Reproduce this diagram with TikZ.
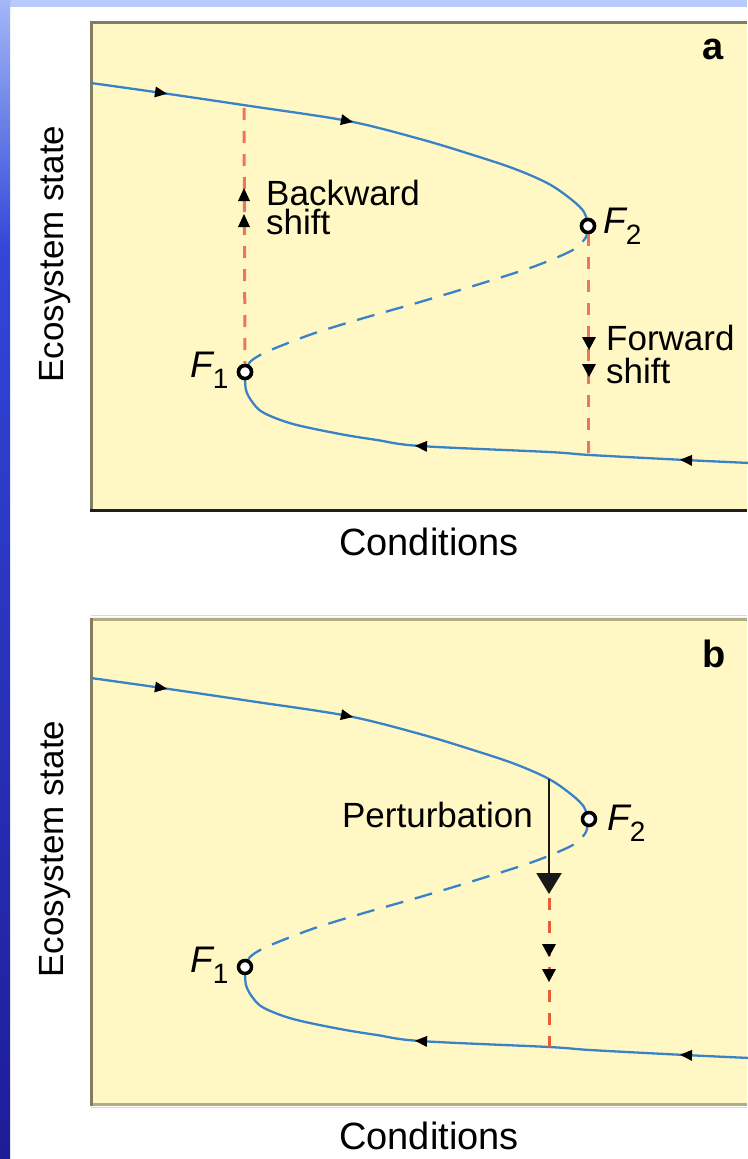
\documentclass[tikz,border=0pt]{standalone}
\usepackage{fontspec}
\setmainfont{Liberation Sans}
\usetikzlibrary{arrows.meta}
\definecolor{panel}{HTML}{FFF8C4}
\definecolor{bord}{HTML}{827C62}
\definecolor{bordl}{HTML}{B3AD85}
\definecolor{curvec}{HTML}{3A82C8}
\definecolor{reda}{HTML}{EF745C}
\definecolor{redb}{HTML}{E55E35}
\definecolor{topstrip}{HTML}{B8CAFA}
\definecolor{stripa}{HTML}{A2B8F6}
\definecolor{stripb}{HTML}{3246D8}
\definecolor{stripc}{HTML}{1E1C98}
\newcommand\upperbranch{plot[smooth, tension=0.55] coordinates {(91,83) (162,93) (250,106) (348,121) (420,139) (473,155) (515,169) (549,184) (572,200) (584,212) (588,225)}}
\newcommand\midbranch{plot[smooth, tension=0.5] coordinates {(588,225) (586,237) (576,248) (558,257) (527,269) (470,287) (420,302) (357,320) (315,333) (283,345) (262,354) (250,362) (245,372)}}
\newcommand\lowerbranch{plot[smooth, tension=0.55] coordinates {(245,372) (246,390) (253,403) (264,413) (293,424) (340,434) (377,440) (420,446) (549,452) (590,455) (685,460) (750,463)}}
\begin{document}
\begin{tikzpicture}[x=1pt,y=-1pt,
  lab/.style={inner sep=0pt, font=\fontsize{35}{40}\selectfont},
  axlab/.style={inner sep=0pt, font=\fontsize{38}{42}\selectfont},
  plab/.style={inner sep=0pt, font=\fontsize{38}{42}\selectfont\bfseries},
  curvesty/.style={draw=curvec, line width=2.3pt},
  middash/.style={curvesty, dash pattern=on 18pt off 12pt},
  reddash/.style={draw=#1, line width=3pt, dash pattern=on 12pt off 11pt},
  fpt/.style={circle, draw=black, fill=white, line width=3.5pt, minimum size=13pt, inner sep=0pt},
  tri/.pic={\fill[black] (5,0) -- (-7,5.5) -- (-7,-5.5) -- cycle;},
  upt/.pic={\fill[black] (0,-7) -- (6,6) -- (-6,6) -- cycle;},
  dnt/.pic={\fill[black] (0,7) -- (7,-6) -- (-7,-6) -- cycle;},
  flab/.style={inner sep=0pt, anchor=base west, font=\fontsize{37}{40}\selectfont}
]
\useasboundingbox (0,0) rectangle (747,1159);
% slide background
\fill[white] (0,0) rectangle (747,1159);
\fill[topstrip] (0,0) rectangle (747,7);
\shade[top color=stripa, bottom color=stripb] (0,0) rectangle (10,250);
\shade[top color=stripb, bottom color=stripc] (0,250) rectangle (10,1159);

% ================= panel a =================
\fill[panel] (91,21) rectangle (747,510);
\draw[bord, line width=3pt] (91.5,510) -- (91.5,22.5) -- (747,22.5);
\draw[black!88, line width=3pt] (90,510.5) -- (747,510.5);

\draw[curvesty] \upperbranch;
\draw[middash] \midbranch;
\draw[curvesty] \lowerbranch;

\pic[rotate=-8.4] at (162,93) {tri};
\pic[rotate=-11] at (348,121) {tri};
\pic[rotate=177] at (420,446) {tri};
\pic[rotate=177.6] at (685,460) {tri};

\node[fpt] (F1a) at (245,372) {};
\node[fpt] (F2a) at (588,226) {};
\coordinate (ba) at (244,108);
\coordinate (fa) at (588,454);
\draw[reddash=reda] (ba) -- (F1a.north);
\draw[reddash=reda] (F2a.south) -- (fa);
\node[fpt] at (F1a) {};
\node[fpt] at (F2a) {};

\pic at (244,195) {upt};
\pic at (244,221) {upt};
\pic at (589,343) {dnt};
\pic at (589,370) {dnt};

\node[lab, anchor=base west, align=left, font=\fontsize{35}{29}\selectfont] (bw) at (266,234) {Backward\\shift};
\node[lab, anchor=base west, align=left, font=\fontsize{35}{33}\selectfont] (fw) at (606,383) {Forward\\shift};

\node[flab] (F1la) at (190,377) {\itshape F\raisebox{-11pt}{\upshape\fontsize{28}{30}\selectfont 1}};
\node[flab] (F2la) at (603,233) {\itshape F\raisebox{-11pt}{\upshape\fontsize{28}{30}\selectfont 2}};

\node[plab, anchor=base] (pa) at (713,59) {a};
\node[lab, rotate=90, anchor=base] (ya) at (63,254) {Ecosystem state};
\node[axlab, anchor=base] (xa) at (429,555) {Conditions};

% ================= panel b =================
\fill[panel] (91,617) rectangle (747,1105);
\draw[black!15, line width=1pt] (91,615.5) -- (747,615.5);
\draw[bordl, line width=3pt] (91,619.5) -- (747,619.5);
\draw[bordl, line width=3pt] (90,1104.5) -- (747,1104.5);
\draw[black!15, line width=1pt] (91,1107) -- (747,1107);
\draw[bord, line width=3pt] (91.5,618) -- (91.5,1106);

\begin{scope}[shift={(0,595)}]
\draw[curvesty] \upperbranch;
\draw[middash] \midbranch;
\draw[curvesty] \lowerbranch;
\pic[rotate=-8.4] at (162,93) {tri};
\pic[rotate=-11] at (348,121) {tri};
\pic[rotate=177] at (420,446) {tri};
\pic[rotate=177.6] at (685,460) {tri};
\end{scope}

\node[fpt] (F1b) at (245,967) {};
\node[fpt] (F2b) at (589,819) {};

\coordinate (pt) at (549,779);
\coordinate (ptip) at (549,894);
\coordinate (pd1) at (549,898);
\coordinate (pd2) at (549,1047);
\draw[reddash=redb] (pd1) -- (pd2);
\draw[black!90, line width=2.4pt, -{Triangle[length=21pt,width=25pt]}] (pt) -- (ptip);
\pic at (549,950) {dnt};
\pic at (549,975) {dnt};

\node[lab, anchor=base east] (pl) at (533,827) {Perturbation};
\node[flab] (F1lb) at (190,972) {\itshape F\raisebox{-11pt}{\upshape\fontsize{28}{30}\selectfont 1}};
\node[flab] (F2lb) at (607,830) {\itshape F\raisebox{-11pt}{\upshape\fontsize{28}{30}\selectfont 2}};

\node[plab, anchor=base] (pb) at (714,667) {b};
\node[lab, rotate=90, anchor=base] (yb) at (63,849) {Ecosystem state};
\node[axlab, anchor=base] (xb) at (429,1149) {Conditions};
\end{tikzpicture}
\end{document}
